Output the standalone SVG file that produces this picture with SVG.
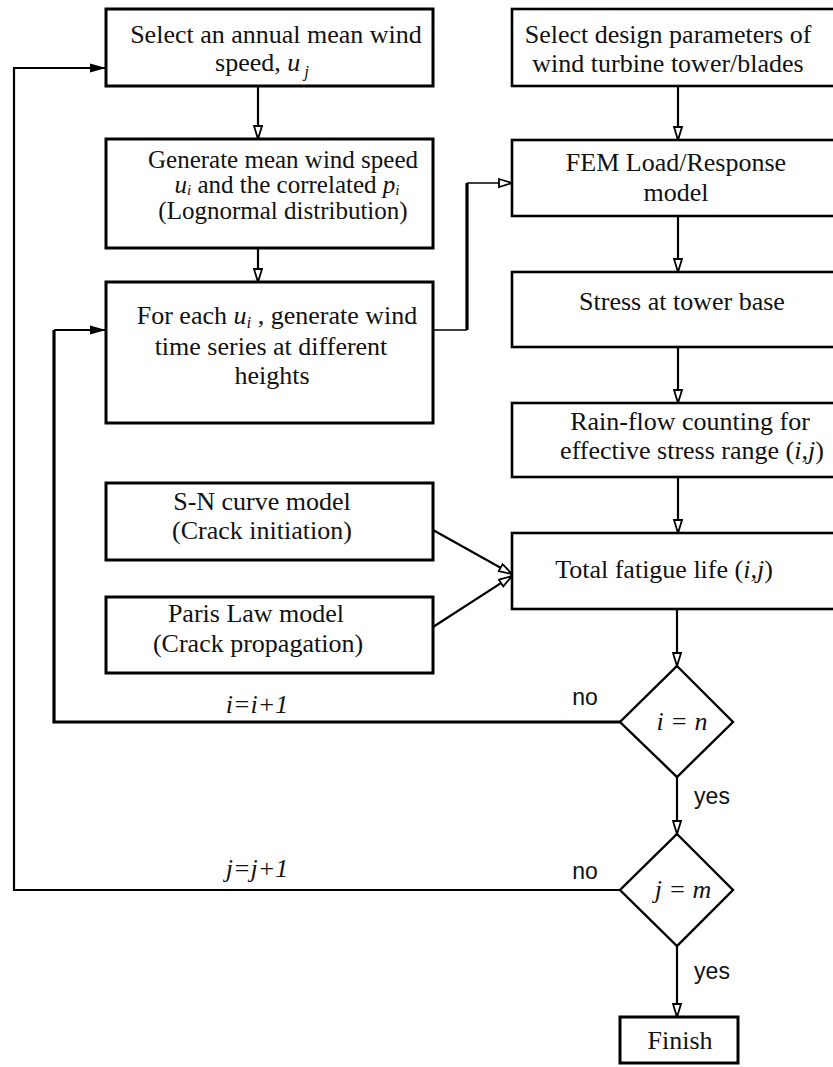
<svg xmlns="http://www.w3.org/2000/svg" width="833" height="1067" viewBox="0 0 833 1067">
<style>
.box{fill:#fff;stroke:#000;stroke-width:3}
.rbox{fill:#fff;stroke:#000;stroke-width:2.6}
.t{font-family:"Liberation Serif","Times New Roman",serif;font-size:26px;fill:#111;text-anchor:middle}
.t25{font-size:25px}
.it{font-style:italic}
.sub{font-size:17px;font-style:italic}
.sub2{font-size:15px;font-style:italic}
.s{font-family:"Liberation Sans",Arial,sans-serif;font-size:23px;fill:#111;text-anchor:middle}
.c{fill:none;stroke:#000;stroke-width:2.2}
.ct{fill:none;stroke:#000;stroke-width:1.5}
.ck{fill:none;stroke:#000;stroke-width:3.2}
.dm{fill:#fff;stroke:#000;stroke-width:2.4}
</style>
<defs>
<marker id="ah" markerUnits="userSpaceOnUse" markerWidth="16" markerHeight="12" refX="14" refY="5" orient="auto">
<path d="M1,1 L14,5 L1,9 Z" fill="#fff" stroke="#000" stroke-width="1.8"/>
</marker>
<marker id="af" markerUnits="userSpaceOnUse" markerWidth="18" markerHeight="12" refX="16" refY="5" orient="auto">
<path d="M0,0.5 L16,5 L0,9.5 Z" fill="#000"/>
</marker>
</defs>

<g id="connectors">
<line class="c" x1="258" y1="86" x2="258" y2="139" marker-end="url(#ah)"/>
<line class="c" x1="258" y1="248" x2="258" y2="282" marker-end="url(#ah)"/>
<line class="c" x1="678" y1="86" x2="678" y2="140" marker-end="url(#ah)"/>
<line class="c" x1="678" y1="216" x2="678" y2="272" marker-end="url(#ah)"/>
<line class="c" x1="678" y1="347" x2="678" y2="403" marker-end="url(#ah)"/>
<line class="c" x1="678" y1="477" x2="678" y2="533" marker-end="url(#ah)"/>
<line class="c" x1="677" y1="609" x2="677" y2="666" marker-end="url(#ah)"/>
<line class="c" x1="677" y1="777" x2="677" y2="834" marker-end="url(#ah)"/>
<line class="c" x1="677" y1="946" x2="677" y2="1017" marker-end="url(#ah)"/>
<polyline class="ct" points="433,330 467,330"/>
<polyline class="ck" points="467,330 467,183"/>
<polyline class="ct" points="467,183 512,183" marker-end="url(#ah)"/>
<line class="c" x1="433" y1="530" x2="512" y2="574" marker-end="url(#ah)"/>
<line class="c" x1="433" y1="627" x2="512" y2="576" marker-end="url(#ah)"/>
<polyline class="ck" points="620,722 54,722 54,330"/>
<polyline class="c" points="54,330 106,330" marker-end="url(#af)"/>
<polyline class="c" points="620,890 14,890 14,68 106,68" marker-end="url(#af)"/>
</g>

<g id="n_select_speed">
<rect class="box" x="106" y="9" width="327" height="77"/>
<text class="t" x="276" y="43">Select an annual mean wind</text>
<text class="t" x="262" y="71">speed, <tspan class="it">u</tspan><tspan class="sub" dx="4" dy="6">j</tspan></text>
</g>

<g id="n_design">
<rect class="rbox" x="512" y="9" width="340" height="77"/>
<text class="t" x="668" y="43">Select design parameters of</text>
<text class="t" x="668" y="72">wind turbine tower/blades</text>
</g>

<g id="n_generate">
<rect class="box" x="106" y="139" width="327" height="109"/>
<text class="t t25" x="283" y="168">Generate mean wind speed</text>
<text class="t t25" x="287" y="193"><tspan class="it">u</tspan><tspan class="sub2" dy="2">i</tspan><tspan dy="-2"> and the correlated  </tspan><tspan class="it">p</tspan><tspan class="sub2" dy="2">i</tspan></text>
<text class="t t25" x="283" y="219">(Lognormal distribution)</text>
</g>

<g id="n_foreach">
<rect class="box" x="106" y="282" width="327" height="141"/>
<text class="t" x="277" y="324">For each <tspan class="it">u</tspan><tspan class="sub" dy="4">i</tspan><tspan dy="-4"> , generate wind</tspan></text>
<text class="t" x="271" y="355">time series at different</text>
<text class="t" x="272" y="384">heights</text>
</g>

<g id="n_fem">
<rect class="rbox" x="512" y="140" width="340" height="76"/>
<text class="t" x="676" y="171">FEM Load/Response</text>
<text class="t" x="676" y="201">model</text>
</g>

<g id="n_stress">
<rect class="rbox" x="512" y="272" width="340" height="75"/>
<text class="t" x="682" y="310">Stress at tower base</text>
</g>

<g id="n_rainflow">
<rect class="rbox" x="512" y="403" width="340" height="74"/>
<text class="t" x="690" y="430">Rain-flow counting for</text>
<text class="t" x="692" y="459">effective stress range (<tspan class="it">i,j</tspan>)</text>
</g>

<g id="n_sn">
<rect class="box" x="106" y="483" width="327" height="77"/>
<text class="t" x="262" y="510">S-N curve model</text>
<text class="t" x="262" y="539">(Crack initiation)</text>
</g>

<g id="n_paris">
<rect class="box" x="106" y="597" width="327" height="76"/>
<text class="t" x="256" y="622">Paris Law model</text>
<text class="t" x="258" y="652">(Crack propagation)</text>
</g>

<g id="n_total">
<rect class="rbox" x="512" y="533" width="340" height="76"/>
<text class="t" x="664" y="578">Total fatigue life (<tspan class="it">i,j</tspan>)</text>
</g>

<g id="n_i_eq_n">
<polygon class="dm" points="677,666 733,722 677,777 620,722"/>
<text class="t it" x="682" y="730" fill="#333">i = n</text>
</g>

<g id="n_j_eq_m">
<polygon class="dm" points="677,834 733,890 677,946 620,890"/>
<text class="t it" x="683" y="898" fill="#333">j = m</text>
</g>

<g id="n_finish">
<rect class="box" x="620" y="1017" width="118" height="46"/>
<text class="t" x="680" y="1049">Finish</text>
</g>

<g id="labels">
<text class="t it" x="257" y="713">i=i+1</text>
<text class="t it" x="257" y="877">j=j+1</text>
<text class="s" x="585" y="705">no</text>
<text class="s" x="585" y="879">no</text>
<text class="s" x="712" y="804">yes</text>
<text class="s" x="712" y="979">yes</text>
</g>
</svg>
